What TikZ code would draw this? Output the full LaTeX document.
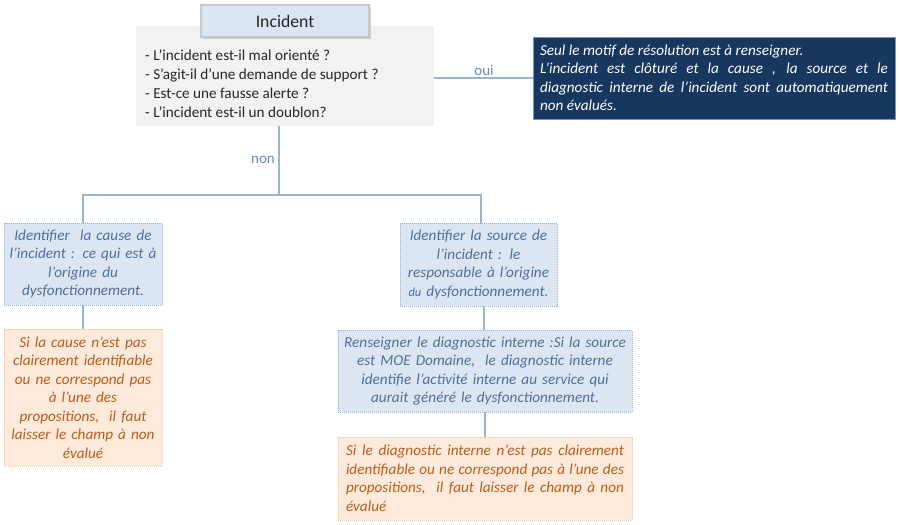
\documentclass[tikz,border=0pt]{standalone}
\usepackage{fontspec}
\setmainfont{Carlito}
\usetikzlibrary{shadows}
\definecolor{conn}{RGB}{152,180,207}
\definecolor{bluefill}{RGB}{220,230,242}
\definecolor{blueborder}{RGB}{150,178,212}
\definecolor{bluetext}{RGB}{80,110,150}
\definecolor{orfill}{RGB}{253,234,218}
\definecolor{orborder}{RGB}{248,190,145}
\definecolor{ortext}{RGB}{185,92,28}
\definecolor{greyfill}{RGB}{242,242,242}
\definecolor{darkfill}{RGB}{23,55,94}
\definecolor{darkborder}{RGB}{110,150,200}
\definecolor{labtext}{RGB}{100,140,185}
\definecolor{qtext}{RGB}{38,38,38}
\tikzset{
  box/.style={rectangle, inner sep=6pt, font=\fontsize{15.2}{18.5}\selectfont\itshape},
  bluebox/.style={box, fill=bluefill, draw=blueborder, line width=0.8pt, dash pattern=on 1pt off 1pt, text=bluetext, align=center},
  orbox/.style={box, fill=orfill, draw=orborder, line width=0.8pt, dash pattern=on 1pt off 1pt, text=ortext},
  connector/.style={draw=conn, line width=2pt},
  lab/.style={text=labtext, font=\fontsize{15}{16}\selectfont},
}
\begin{document}
\begin{tikzpicture}[x=1pt,y=-1pt]
\useasboundingbox (0,0) rectangle (900,525);
\fill[white] (0,0) rectangle (900,525);

% grey question box
\node[rectangle, fill=greyfill, minimum width=298pt, minimum height=100pt, inner sep=0pt] (gbox) at (285,76) {};
\node[anchor=west, align=left, text=qtext, inner sep=0pt, font=\fontsize{15.2}{19}\selectfont] (qlist) at (145,84)
  {- L’incident est-il mal orienté ?\\- S’agit-il d’une demande de support ?\\- Est-ce une fausse alerte ?\\- L’incident est-il un doublon?};

% Incident title
\node[rectangle, fill=bluefill, draw={rgb,255:red,200;green,200;blue,200}, line width=1.2pt,
  drop shadow={opacity=0.35, shadow xshift=1.5pt, shadow yshift=-1.5pt},
  minimum width=168pt, minimum height=32pt, inner sep=0pt, text=qtext,
  font=\fontsize{17.7}{19}\selectfont] (inc) at (285,21) {Incident};

% dark answer box
\node[box, fill=darkfill, draw=darkborder, line width=0.8pt, text=white, align=justify,
  minimum width=362pt, minimum height=82pt, text width=348pt, inner sep=7pt] (dark) at (714,78)
  {Seul le motif de résolution est à renseigner.\\L’incident est clôturé et la cause , la source et le\linebreak diagnostic interne de l’incident sont automatiquement\linebreak non évalués.};

% left branch
\node[bluebox, minimum width=158pt, minimum height=82pt, text width=150pt, inner sep=4pt] (cause) at (83,264)
  {Identifier\ \ la cause de\\l’incident : ce qui est à\\l’origine du\\dysfonctionnement.};
\node[orbox, align=center, minimum width=158pt, minimum height=137pt, text width=150pt, inner sep=4pt] (causeno) at (83,397.5)
  {Si la cause n’est pas\\clairement identifiable\\ou ne correspond pas\\à l’une des\\propositions,\ \ il faut\\laisser le champ à non\\évalué};

% right branch
\node[bluebox, minimum width=157pt, minimum height=83pt, text width=149pt, inner sep=4pt] (source) at (478.5,264.5)
  {Identifier la source de\\l’incident : le\\responsable à l’origine\\{\fontsize{12.5}{18.5}\selectfont du} dysfonctionnement.};
\node[bluebox, minimum width=294pt, minimum height=82pt, text width=286pt, inner sep=4pt] (diag) at (485,371)
  {Renseigner le diagnostic interne :Si la source\\est MOE Domaine,\ \ le diagnostic interne\\identifie l’activité interne au service qui\\aurait généré le dysfonctionnement.};
\node[orbox, align=justify, minimum width=294pt, minimum height=83pt, text width=278pt, inner sep=8pt] (diagno) at (485,478.5)
  {Si le diagnostic interne n’est pas clairement\linebreak identifiable ou ne correspond pas à l’une des\linebreak propositions,\ \ il faut laisser le champ à non\linebreak évalué};

% connectors
\coordinate (j) at (279,195);
\draw[connector] (j |- gbox.south) -- (j);
\draw[connector] (cause.north) |- (j) -| ([xshift=2.5pt]source.north);
\draw[connector] (dark.west -| gbox.east) -- (dark.west);
\draw[connector] ([xshift=5.5pt]source.south) -- ([xshift=-1pt]diag.north);
\draw[connector] (cause.south) -- (causeno.north);
\draw[connector] (diag.south) -- (diagno.north);

% labels
\node[lab] (oui) at (484,70) {oui};
\node[lab] (non) at (263,160) {non};
\end{tikzpicture}
\end{document}
